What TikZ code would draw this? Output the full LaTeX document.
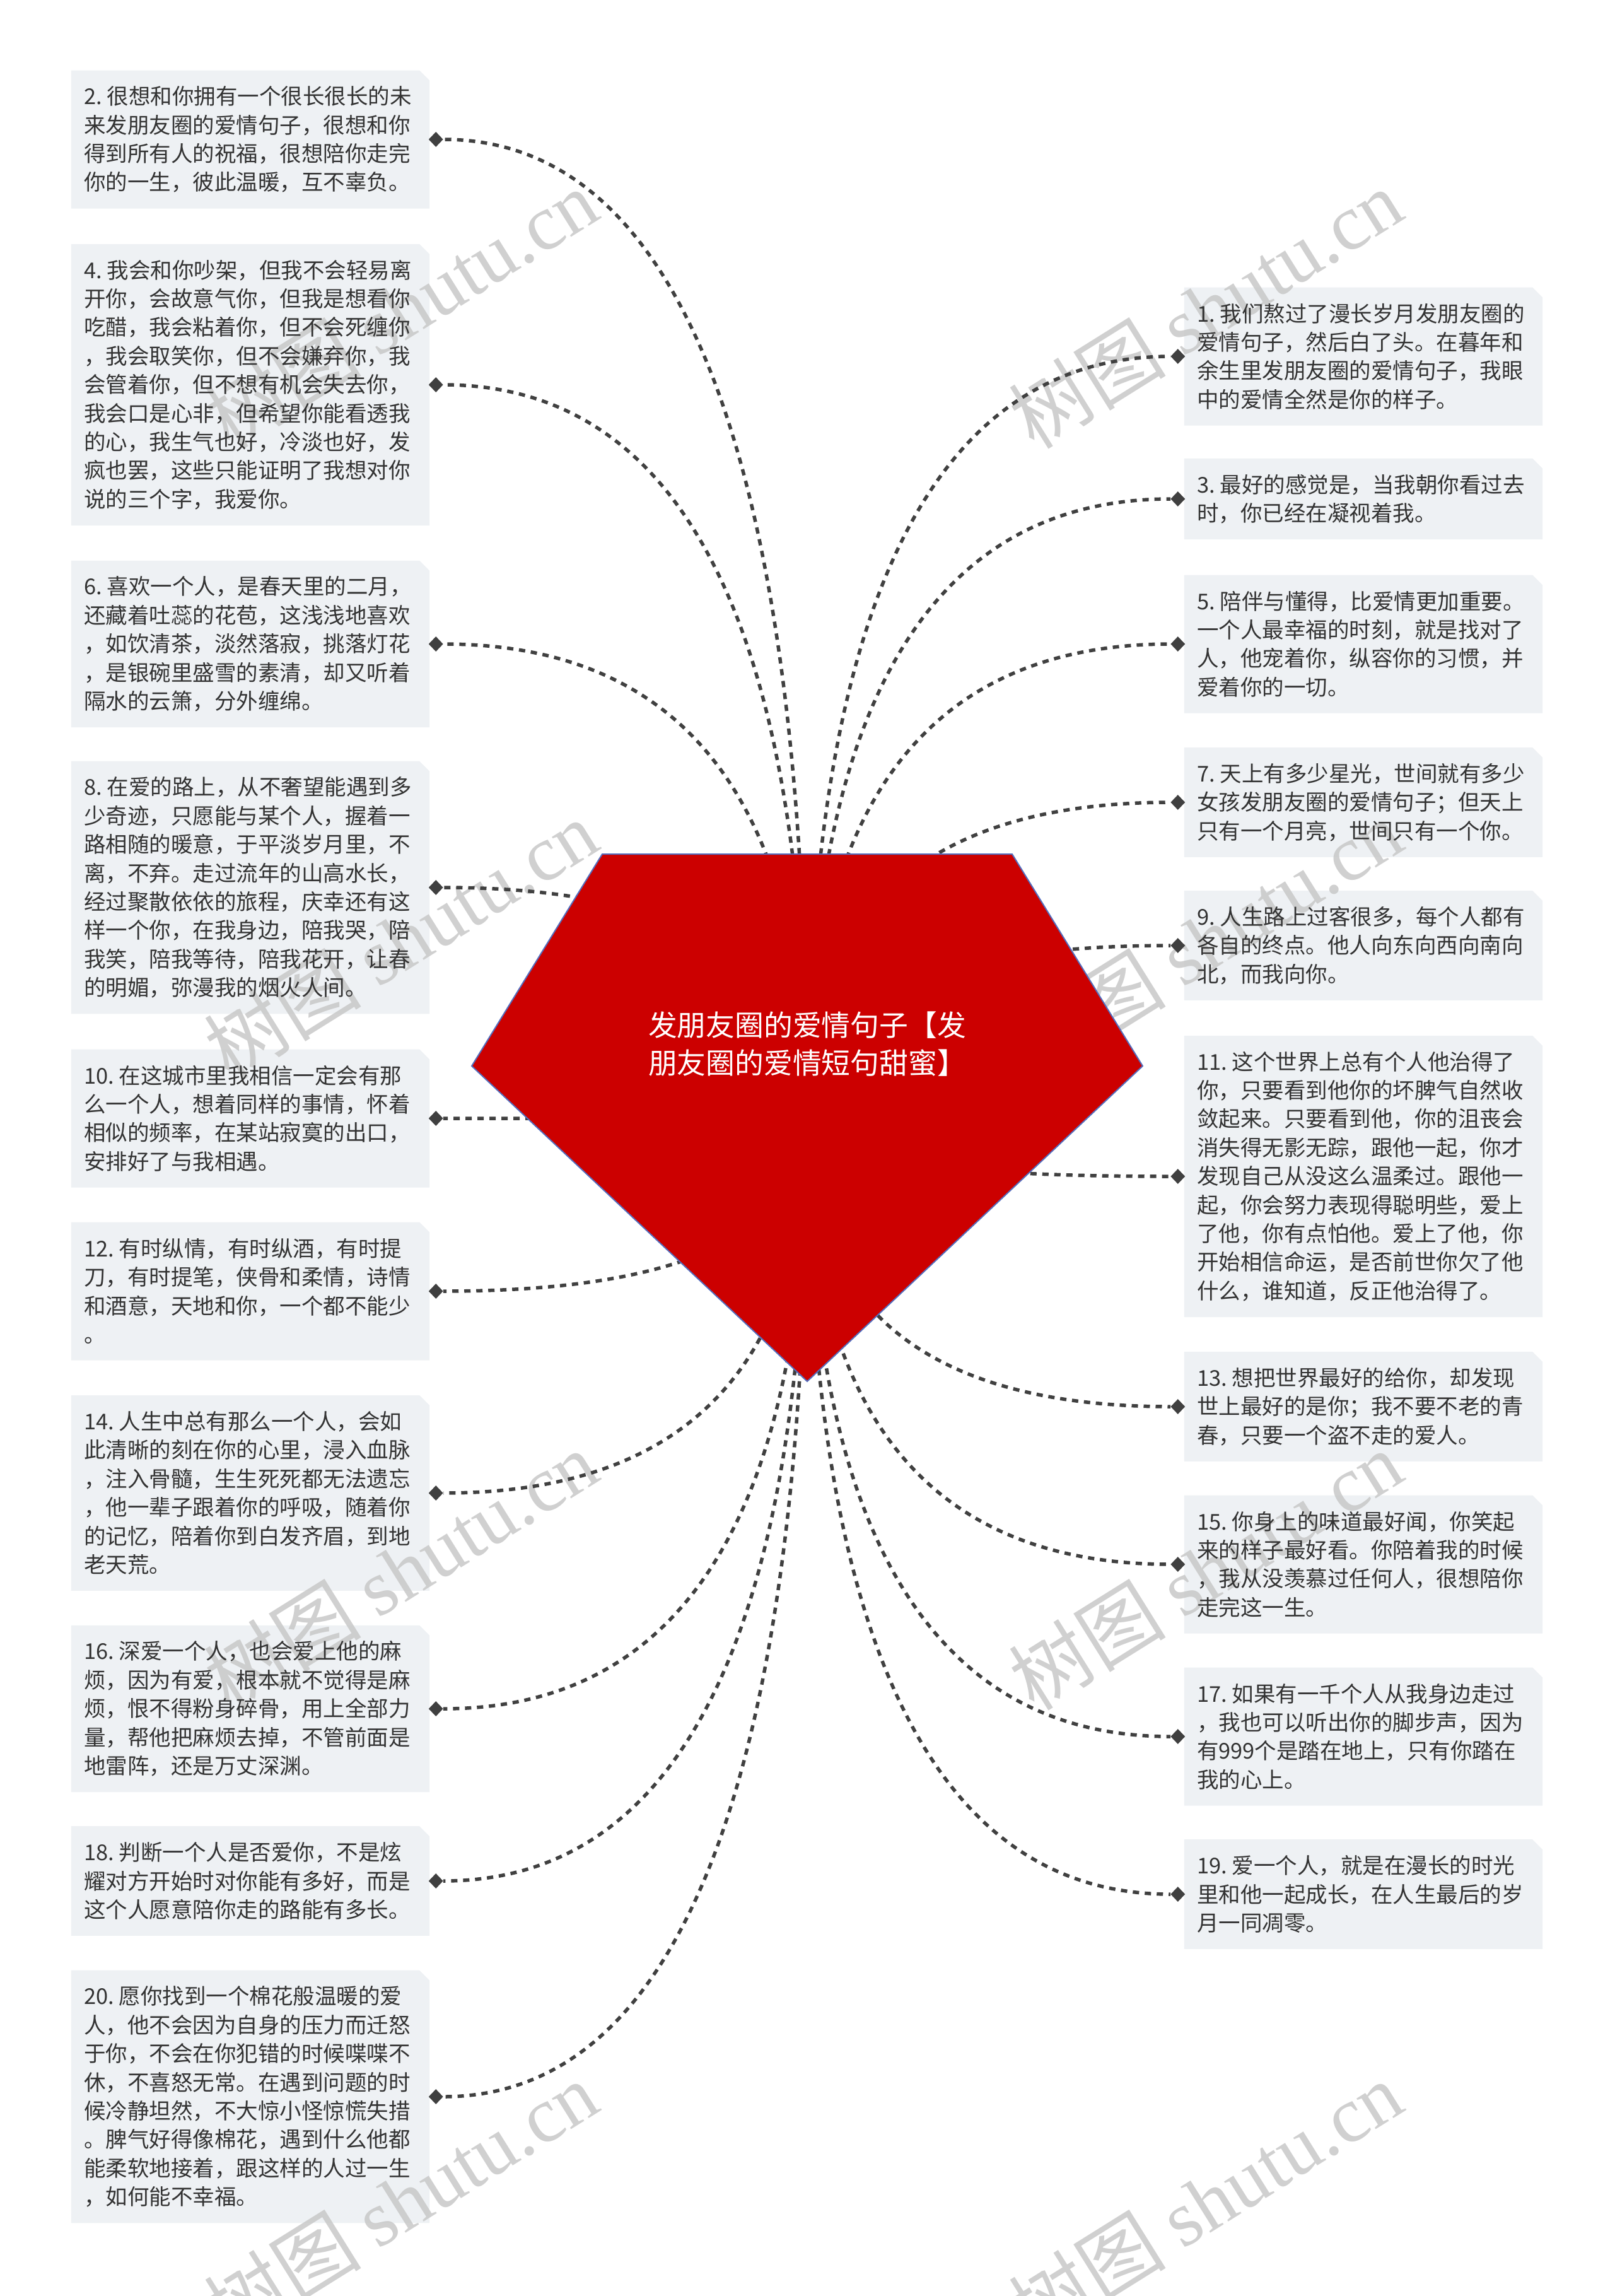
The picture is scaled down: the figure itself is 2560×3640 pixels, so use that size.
\documentclass[tikz,border=0pt]{standalone}
\usepackage{fontspec}
\setmainfont{Noto Sans CJK SC}
\newfontfamily\wmfont{Liberation Serif}
\usetikzlibrary{calc,shapes.geometric,backgrounds}
\definecolor{boxfill}{RGB}{238,241,244}
\definecolor{txtgray}{RGB}{51,51,51}
\definecolor{linkgray}{RGB}{64,64,64}
\definecolor{rootred}{RGB}{204,0,0}
\definecolor{rootedge}{RGB}{84,110,190}
\definecolor{wmgray}{RGB}{200,200,200}
\newcommand\nsp{\hspace{8pt}}
\tikzset{
  leaf/.style={rectangle, inner xsep=20pt, inner ysep=0pt, text width=528pt,
    align=left, text=txtgray, font=\fontsize{34.5pt}{45.4pt}\selectfont},
  nlines/.style={minimum height={37pt+45.4pt*#1}},
  knob/.style={diamond, fill=linkgray, inner sep=0pt, minimum width=23pt, minimum height=24pt},
  link/.style={draw=linkgray, line width=5.5pt, dash pattern=on 10pt off 9pt},
  rootshape/.style={fill=rootred, draw=rootedge, line width=2pt, line join=miter},
  titletext/.style={text=white, align=center, font=\fontsize{45.8pt}{60pt}\selectfont, inner sep=0pt},
  wmark/.style={text=wmgray, rotate=32, font=\fontsize{125pt}{125pt}\selectfont, inner sep=0pt, text opacity=0.85},
}
\begin{document}
\begin{tikzpicture}[x=1pt,y=-1pt]
\useasboundingbox (0,0) rectangle (2560,3640);

% ---------- left column ----------
\node[leaf,nlines=4] (b2) at (397,221) {2.\nsp 很想和你拥有一个很长很长的未\\来发朋友圈的爱情句子，很想和你\\得到所有人的祝福，很想陪你走完\\你的一生，彼此温暖，互不辜负。};
\node[leaf,nlines=9] (b4) at (397,610) {4.\nsp 我会和你吵架，但我不会轻易离\\开你，会故意气你，但我是想看你\\吃醋，我会粘着你，但不会死缠你\\，我会取笑你，但不会嫌弃你，我\\会管着你，但不想有机会失去你，\\我会口是心非，但希望你能看透我\\的心，我生气也好，冷淡也好，发\\疯也罢，这些只能证明了我想对你\\说的三个字，我爱你。};
\node[leaf,nlines=5] (b6) at (397,1021) {6.\nsp 喜欢一个人，是春天里的二月，\\还藏着吐蕊的花苞，这浅浅地喜欢\\，如饮清茶，淡然落寂，挑落灯花\\，是银碗里盛雪的素清，却又听着\\隔水的云箫，分外缠绵。};
\node[leaf,nlines=8] (b8) at (397,1407) {8.\nsp 在爱的路上，从不奢望能遇到多\\少奇迹，只愿能与某个人，握着一\\路相随的暖意，于平淡岁月里，不\\离，不弃。走过流年的山高水长，\\经过聚散依依的旅程，庆幸还有这\\样一个你，在我身边，陪我哭，陪\\我笑，陪我等待，陪我花开，让春\\的明媚，弥漫我的烟火人间。};
\node[leaf,nlines=4] (b10) at (397,1773) {10.\nsp 在这城市里我相信一定会有那\\么一个人，想着同样的事情，怀着\\相似的频率，在某站寂寞的出口，\\安排好了与我相遇。};
\node[leaf,nlines=4] (b12) at (397,2047) {12.\nsp 有时纵情，有时纵酒，有时提\\刀，有时提笔，侠骨和柔情，诗情\\和酒意，天地和你，一个都不能少\\。};
\node[leaf,nlines=6] (b14) at (397,2367) {14.\nsp 人生中总有那么一个人，会如\\此清晰的刻在你的心里，浸入血脉\\，注入骨髓，生生死死都无法遗忘\\，他一辈子跟着你的呼吸，随着你\\的记忆，陪着你到白发齐眉，到地\\老天荒。};
\node[leaf,nlines=5] (b16) at (397,2709) {16.\nsp 深爱一个人，也会爱上他的麻\\烦，因为有爱，根本就不觉得是麻\\烦，恨不得粉身碎骨，用上全部力\\量，帮他把麻烦去掉，不管前面是\\地雷阵，还是万丈深渊。};
\node[leaf,nlines=3] (b18) at (397,2982) {18.\nsp 判断一个人是否爱你，不是炫\\耀对方开始时对你能有多好，而是\\这个人愿意陪你走的路能有多长。};
\node[leaf,nlines=8] (b20) at (397,3324) {20.\nsp 愿你找到一个棉花般温暖的爱\\人，他不会因为自身的压力而迁怒\\于你，不会在你犯错的时候喋喋不\\休，不喜怒无常。在遇到问题的时\\候冷静坦然，不大惊小怪惊慌失措\\。脾气好得像棉花，遇到什么他都\\能柔软地接着，跟这样的人过一生\\，如何能不幸福。};

% ---------- right column ----------
\node[leaf,nlines=4] (b1) at (2162,565) {1.\nsp 我们熬过了漫长岁月发朋友圈的\\爱情句子，然后白了头。在暮年和\\余生里发朋友圈的爱情句子，我眼\\中的爱情全然是你的样子。};
\node[leaf,nlines=2] (b3) at (2162,791) {3.\nsp 最好的感觉是，当我朝你看过去\\时，你已经在凝视着我。};
\node[leaf,nlines=4] (b5) at (2162,1021) {5.\nsp 陪伴与懂得，比爱情更加重要。\\一个人最幸福的时刻，就是找对了\\人，他宠着你，纵容你的习惯，并\\爱着你的一切。};
\node[leaf,nlines=3] (b7) at (2162,1272) {7.\nsp 天上有多少星光，世间就有多少\\女孩发朋友圈的爱情句子；但天上\\只有一个月亮，世间只有一个你。};
\node[leaf,nlines=3] (b9) at (2162,1499) {9.\nsp 人生路上过客很多，每个人都有\\各自的终点。他人向东向西向南向\\北，而我向你。};
\node[leaf,nlines=9] (b11) at (2162,1865) {11.\nsp 这个世界上总有个人他治得了\\你，只要看到他你的坏脾气自然收\\敛起来。只要看到他，你的沮丧会\\消失得无影无踪，跟他一起，你才\\发现自己从没这么温柔过。跟他一\\起，你会努力表现得聪明些，爱上\\了他，你有点怕他。爱上了他，你\\开始相信命运，是否前世你欠了他\\什么，谁知道，反正他治得了。};
\node[leaf,nlines=3] (b13) at (2162,2230) {13.\nsp 想把世界最好的给你，却发现\\世上最好的是你；我不要不老的青\\春，只要一个盗不走的爱人。};
\node[leaf,nlines=4] (b15) at (2162,2480) {15.\nsp 你身上的味道最好闻，你笑起\\来的样子最好看。你陪着我的时候\\，我从没羡慕过任何人，很想陪你\\走完这一生。};
\node[leaf,nlines=4] (b17) at (2162,2753) {17.\nsp 如果有一千个人从我身边走过\\，我也可以听出你的脚步声，因为\\有999个是踏在地上，只有你踏在\\我的心上。};
\node[leaf,nlines=3] (b19) at (2162,3003) {19.\nsp 爱一个人，就是在漫长的时光\\里和他一起成长，在人生最后的岁\\月一同凋零。};

% ---------- markers ----------
\foreach \i in {2,4,...,20} { \node[knob] (d\i) at ($(b\i.east)+(10,0)$) {}; }
\foreach \i in {1,3,...,19} { \node[knob] (d\i) at ($(b\i.west)+(-10,0)$) {}; }

% ---------- background: page, box fills, watermark ----------
\begin{scope}[on background layer]
  \fill[white] (0,0) rectangle (2560,3640);
  \foreach \i in {1,...,20} {
    \fill[boxfill] (b\i.south west) -- (b\i.north west) -- ($(b\i.north east)+(-16,0)$)
      -- ($(b\i.north east)+(0,16)$) -- (b\i.south east) -- cycle;
  }
  \node[wmark] (w1) at (635,489) {树图 {\wmfont shutu.cn}};
  \node[wmark] (w2) at (1911,489) {树图 {\wmfont shutu.cn}};
  \node[wmark] (w3) at (635,1489) {树图 {\wmfont shutu.cn}};
  \node[wmark] (w4) at (1911,1489) {树图 {\wmfont shutu.cn}};
  \node[wmark] (w5) at (635,2489) {树图 {\wmfont shutu.cn}};
  \node[wmark] (w6) at (1911,2489) {树图 {\wmfont shutu.cn}};
  \node[wmark] (w7) at (635,3489) {树图 {\wmfont shutu.cn}};
  \node[wmark] (w8) at (1911,3489) {树图 {\wmfont shutu.cn}};
\end{scope}

% ---------- connectors ----------
\coordinate (root) at (1280,1772);
\foreach \i in {1,...,20} {
  \coordinate (q\i) at (root |- d\i);
  \draw[link] (root) .. controls ($(root)!0.6667!(q\i)$) and ($(d\i)!0.6667!(q\i)$) .. (d\i);
}

% ---------- root ----------
\path[rootshape] ($(root)+(-325,-418)$) -- ($(root)+(325,-418)$) -- ($(root)+(532,-82)$)
  -- ($(root)+(0,418)$) -- ($(root)+(-532,-82)$) -- cycle;
\node[titletext] (title) at (1280,1655) {发朋友圈的爱情句子【发\\朋友圈的爱情短句甜蜜】};
\end{tikzpicture}
\end{document}
